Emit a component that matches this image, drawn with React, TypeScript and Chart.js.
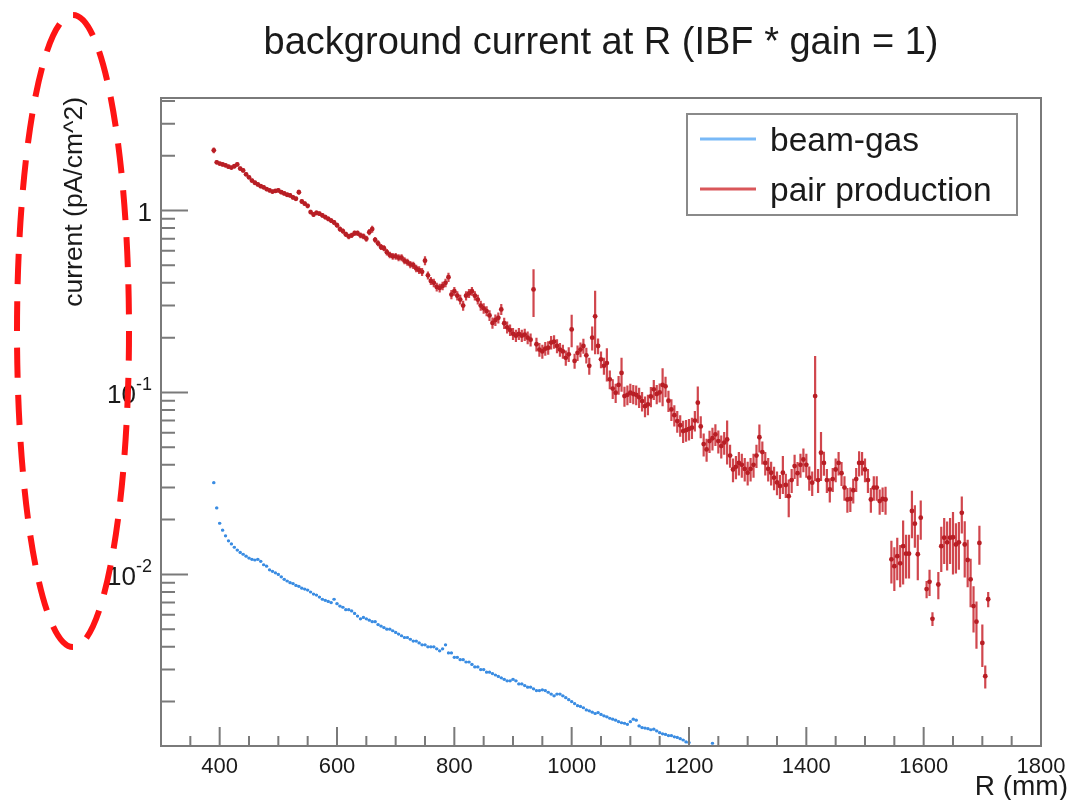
import React, { useEffect, useRef } from "react";
import { Chart, registerables } from "chart.js";

Chart.register(...registerables);

// ---- binning of both histograms (R in mm, bin centres) ----
const R_START = 390;
const BIN_WIDTH = 5;

// pair production (red), 390 .. 1710 mm
const PAIR_VALUES: (number | null)[] = [
  2.14, 1.84, 1.81, 1.79, 1.77, 1.74, 1.72, 1.75, 1.79, 1.70,
  1.66, 1.58, 1.52, 1.46, 1.42, 1.39, 1.36, 1.34, 1.31, 1.29,
  1.27, 1.28, 1.29, 1.26, 1.24, 1.22, 1.21, 1.18, 1.16, 1.26,
  1.12, 1.09, 1.06, 0.98, 0.95, 0.97, 0.96, 0.94, 0.92, 0.90,
  0.88, 0.86, 0.83, 0.79, 0.77, 0.74, 0.72, 0.73, 0.75, 0.75,
  0.73, 0.72, 0.70, 0.76, 0.79, 0.69, 0.66, 0.63, 0.62, 0.59,
  0.57, 0.56, 0.56, 0.55, 0.55, 0.53, 0.52, 0.505, 0.50, 0.48,
  0.47, 0.46, 0.53, 0.44, 0.41, 0.40, 0.38, 0.375, 0.385, 0.40,
  0.43, 0.345, 0.36, 0.34, 0.324, 0.30, 0.34, 0.35, 0.36, 0.34,
  0.324, 0.30, 0.29, 0.28, 0.265, 0.241, 0.25, 0.257, 0.286, 0.24,
  0.228, 0.22, 0.21, 0.205, 0.21, 0.205, 0.208, 0.20, 0.195, 0.368,
  0.184, 0.172, 0.168, 0.174, 0.176, 0.188, 0.19, 0.18, 0.172, 0.168,
  0.155, 0.162, 0.222, 0.149, 0.165, 0.172, 0.18, 0.16, 0.14, 0.20,
  0.262, 0.18, 0.152, 0.14, 0.145, 0.118, 0.105, 0.0996, 0.11, 0.128,
  0.0955, 0.097, 0.0996, 0.098, 0.097, 0.094, 0.0896, 0.084, 0.086, 0.095,
  0.104, 0.098, 0.10, 0.11, 0.108, 0.09, 0.0806, 0.075, 0.0696, 0.066,
  0.0613, 0.062, 0.063, 0.064, 0.07, 0.0878, 0.065, 0.052, 0.0486, 0.054,
  0.056, 0.0588, 0.054, 0.0507, 0.053, 0.0552, 0.045, 0.0377, 0.039, 0.041,
  0.040, 0.038, 0.0362, 0.038, 0.040, 0.045, 0.0567, 0.047, 0.041, 0.038,
  0.0362, 0.034, 0.032, 0.0306, 0.0362, 0.031, 0.0269, 0.033, 0.0394, 0.036,
  0.040, 0.0428, 0.040, 0.034, 0.0319, 0.0955, 0.033, 0.0466, 0.041, 0.033,
  0.0293, 0.0334, 0.0377, 0.041, 0.036, 0.030, 0.0258, 0.026, 0.029, 0.0334,
  0.041, 0.041, 0.0377, 0.033, 0.0258, 0.030, 0.030, 0.0253, 0.026, 0.0258,
  null, 0.0121, 0.0111, 0.0126, 0.0115, 0.0143, 0.013, 0.013, 0.0223, 0.019,
  0.0129, 0.0205, null, 0.0083, 0.0091, 0.0057, null, 0.0088, 0.0143, 0.0159,
  0.015, 0.0159, 0.016, 0.0146, 0.015, 0.0218, 0.0146, 0.012, 0.0094, 0.0067,
  0.0055, 0.0149, 0.0042, 0.00276, 0.0073,
];

const PAIR_ERRORS: number[] = [
  0.08, 0.045, 0.045, 0.045, 0.044, 0.043, 0.043, 0.044, 0.045, 0.042,
  0.042, 0.04, 0.038, 0.037, 0.036, 0.035, 0.034, 0.034, 0.033, 0.033,
  0.033, 0.033, 0.034, 0.033, 0.032, 0.032, 0.032, 0.031, 0.031, 0.04,
  0.03, 0.03, 0.03, 0.028, 0.028, 0.028, 0.028, 0.028, 0.027, 0.027,
  0.027, 0.027, 0.026, 0.026, 0.026, 0.025, 0.025, 0.025, 0.026, 0.026,
  0.026, 0.026, 0.026, 0.03, 0.035, 0.025, 0.025, 0.024, 0.024, 0.024,
  0.024, 0.024, 0.024, 0.024, 0.024, 0.023, 0.023, 0.023, 0.023, 0.023,
  0.023, 0.023, 0.03, 0.022, 0.021, 0.021, 0.021, 0.021, 0.021, 0.022,
  0.025, 0.02, 0.02, 0.02, 0.02, 0.019, 0.02, 0.02, 0.02, 0.02,
  0.02, 0.019, 0.019, 0.018, 0.018, 0.017, 0.018, 0.018, 0.02, 0.017,
  0.017, 0.016, 0.016, 0.016, 0.016, 0.016, 0.016, 0.016, 0.016, 0.108,
  0.016, 0.015, 0.015, 0.015, 0.015, 0.016, 0.016, 0.016, 0.015, 0.015,
  0.015, 0.015, 0.045, 0.014, 0.016, 0.016, 0.017, 0.016, 0.015, 0.03,
  0.1, 0.018, 0.016, 0.015, 0.03, 0.014, 0.013, 0.012, 0.013, 0.027,
  0.012, 0.012, 0.012, 0.012, 0.012, 0.012, 0.011, 0.011, 0.011, 0.012,
  0.013, 0.012, 0.012, 0.026, 0.014, 0.012, 0.011, 0.01, 0.0095, 0.009,
  0.0085, 0.0085, 0.0085, 0.0085, 0.009, 0.02, 0.009, 0.0075, 0.007, 0.0075,
  0.008, 0.008, 0.0078, 0.0073, 0.0076, 0.015, 0.0065, 0.0056, 0.0057, 0.006,
  0.006, 0.0056, 0.0054, 0.0056, 0.006, 0.0066, 0.01, 0.0068, 0.006, 0.0056,
  0.0054, 0.005, 0.0048, 0.0046, 0.0085, 0.0047, 0.0063, 0.005, 0.006, 0.0054,
  0.006, 0.0064, 0.006, 0.0052, 0.0049, 0.063, 0.005, 0.014, 0.0062, 0.005,
  0.0045, 0.005, 0.0056, 0.006, 0.0054, 0.0046, 0.004, 0.004, 0.0045, 0.005,
  0.0065, 0.006, 0.0056, 0.005, 0.004, 0.0046, 0.0046, 0.004, 0.004, 0.0045,
  0, 0.0032, 0.003, 0.0033, 0.003, 0.0055, 0.0035, 0.0035, 0.0065, 0.005,
  0.0036, 0.005, 0, 0.0009, 0.0015, 0.0005, 0, 0.0015, 0.004, 0.0045,
  0.0045, 0.0045, 0.006, 0.0045, 0.0044, 0.005, 0.005, 0.0035, 0.0028, 0.0019,
  0.0016, 0.0036, 0.0011, 0.0004, 0.0007,
];

// beam-gas (blue), 390 .. 1240 mm
const BEAMGAS_VALUES: (number | null)[] = [
  0.0319, 0.0232, 0.0191, 0.0175, 0.0163, 0.0153, 0.0147, 0.0141, 0.0136, 0.0132,
  0.0129, 0.0126, 0.0123, 0.0121, 0.0120, 0.0121, 0.0118, 0.0113, 0.0111, 0.0106,
  0.0104, 0.0102, 0.0100, 0.0097, 0.0094, 0.0092, 0.0090, 0.0089, 0.0087, 0.0086,
  0.0084, 0.0083, 0.0082, 0.0080, 0.0078, 0.0077, 0.0075, 0.0073, 0.0072, 0.0071,
  0.0070, 0.0073, 0.0069, 0.0067, 0.0066, 0.0064, 0.0064, 0.0063, 0.0061, 0.0059,
  0.0057, 0.0058, 0.0057, 0.0056, 0.0055, 0.0055, 0.0053, 0.0052, 0.0051, 0.0050,
  0.0050, 0.0049, 0.0048, 0.0047, 0.0046, 0.0045, 0.0045, 0.0044, 0.0043, 0.0043,
  0.0042, 0.0041, 0.0041, 0.0040, 0.0040, 0.0040, 0.0039, 0.0038, 0.0039, 0.0041,
  0.0037, 0.0037, 0.0035, 0.0035, 0.0034, 0.0034, 0.0033, 0.0033, 0.0032, 0.0031,
  0.0031, 0.0030, 0.0030, 0.0029, 0.0029, 0.00285, 0.0028, 0.00275, 0.0027, 0.00265,
  0.0026, 0.0026, 0.00265, 0.0026, 0.0025, 0.0025, 0.00245, 0.0024, 0.0024, 0.00235,
  0.0023, 0.0023, 0.00232, 0.0023, 0.00225, 0.0022, 0.00215, 0.0022, 0.0022, 0.00215,
  0.0021, 0.00205, 0.0020, 0.00195, 0.0019, 0.00188, 0.00185, 0.0018, 0.00178, 0.00175,
  0.00172, 0.00174, 0.0017, 0.00167, 0.00165, 0.00162, 0.0016, 0.00158, 0.00155, 0.00153,
  0.00152, 0.0015, 0.00155, 0.0016, 0.00158, 0.00147, 0.00144, 0.00143, 0.00142, 0.0014,
  0.00141, 0.00138, 0.00135, 0.00133, 0.00132, 0.0013, 0.0013, 0.00128, 0.00127, 0.00125,
  0.00123, 0.0012, 0.00119, null, null, null, null, null, null, null,
  0.00118,
];

// axes
const X_MIN = 300;
const X_MAX = 1800;
const Y_MIN = 1.14e-3;
const Y_MAX = 4.15;
const X_MAJOR_TICKS = [400, 600, 800, 1000, 1200, 1400, 1600, 1800];
const X_MINOR_TICKS = [350, 450, 500, 550, 650, 700, 750, 850, 900, 950, 1050, 1100, 1150, 1250, 1300, 1350, 1450, 1500, 1550, 1650, 1700, 1750];
const Y_DECADES = [0.001, 0.01, 0.1, 1];
const Y_MINOR_MULTS = [2, 3, 4, 5, 6, 7, 8, 9];
const Y_LABELS = [
  { value: 1, base: "1", exp: "" },
  { value: 0.1, base: "10", exp: "-1" },
  { value: 0.01, base: "10", exp: "-2" },
];

const TITLE = "background current at R (IBF * gain = 1)";
const X_TITLE = "R (mm)";
const Y_TITLE = "current (pA/cm^2)";
const SERIES_NAMES = ["beam-gas", "pair production"];

const FONT = "'Liberation Sans', Arial, Helvetica, sans-serif";
const BLUE = "#3a8ce2";
const BLUE_BAR = "rgba(70,150,232,0.9)";
const BLUE_LEGEND = "#79b9f7";
const RED = "#b81e25";
const RED_BAR = "rgba(200,38,46,0.85)";
const RED_LEGEND = "#d9575a";
const AXIS = "#7a7a7a";
const TEXT = "#1a1a1a";

function toPoints(values: (number | null)[]) {
  const pts: { x: number; y: number }[] = [];
  values.forEach((v, i) => {
    if (v !== null && v > 0) pts.push({ x: R_START + i * BIN_WIDTH, y: v });
  });
  return pts;
}

const rootStylePlugin = {
  id: "rootStyle",
  beforeDatasetsDraw(chart: any) {
    const { ctx, chartArea, scales } = chart;
    const xs = scales.x;
    const ys = scales.y;
    ctx.save();
    ctx.beginPath();
    ctx.rect(chartArea.left, chartArea.top, chartArea.right - chartArea.left, chartArea.bottom - chartArea.top);
    ctx.clip();

    // beam-gas: horizontal bin-width bars
    ctx.strokeStyle = BLUE_BAR;
    ctx.lineWidth = 1.8;
    BEAMGAS_VALUES.forEach((v, i) => {
      if (v === null) return;
      const r = R_START + i * BIN_WIDTH;
      const py = ys.getPixelForValue(v);
      ctx.beginPath();
      ctx.moveTo(xs.getPixelForValue(r - BIN_WIDTH / 2), py);
      ctx.lineTo(xs.getPixelForValue(r + BIN_WIDTH / 2), py);
      ctx.stroke();
    });

    // pair production: vertical error bars + horizontal bin-width bars
    ctx.strokeStyle = RED_BAR;
    ctx.lineWidth = 2.2;
    PAIR_VALUES.forEach((v, i) => {
      if (v === null) return;
      const r = R_START + i * BIN_WIDTH;
      const e = PAIR_ERRORS[i];
      const px = xs.getPixelForValue(r);
      const py = ys.getPixelForValue(v);
      ctx.beginPath();
      ctx.moveTo(xs.getPixelForValue(r - BIN_WIDTH / 2), py);
      ctx.lineTo(xs.getPixelForValue(r + BIN_WIDTH / 2), py);
      if (e) {
        const low = v - e > Y_MIN * 0.01 ? v - e : Y_MIN * 0.01;
        ctx.moveTo(px, ys.getPixelForValue(v + e));
        ctx.lineTo(px, ys.getPixelForValue(low));
      }
      ctx.stroke();
    });
    ctx.restore();
  },
  afterDraw(chart: any) {
    const { ctx, chartArea, scales } = chart;
    const xs = scales.x;
    const ys = scales.y;
    const { left, right, top, bottom } = chartArea;
    ctx.save();

    // frame
    ctx.strokeStyle = AXIS;
    ctx.lineWidth = 2;
    ctx.strokeRect(left, top, right - left, bottom - top);

    // x ticks (inward)
    ctx.beginPath();
    X_MAJOR_TICKS.forEach((t) => {
      const px = xs.getPixelForValue(t);
      ctx.moveTo(px, bottom);
      ctx.lineTo(px, bottom - 19);
    });
    X_MINOR_TICKS.forEach((t) => {
      const px = xs.getPixelForValue(t);
      ctx.moveTo(px, bottom);
      ctx.lineTo(px, bottom - 10);
    });
    // y ticks (inward)
    Y_DECADES.forEach((d) => {
      if (d >= Y_MIN && d <= Y_MAX) {
        const py = ys.getPixelForValue(d);
        ctx.moveTo(left, py);
        ctx.lineTo(left + 27, py);
      }
      Y_MINOR_MULTS.forEach((m) => {
        const v = d * m;
        if (v < Y_MIN || v > Y_MAX) return;
        const py = ys.getPixelForValue(v);
        ctx.moveTo(left, py);
        ctx.lineTo(left + 14, py);
      });
    });
    ctx.stroke();

    ctx.fillStyle = TEXT;
    // x tick labels
    ctx.font = `22px ${FONT}`;
    ctx.textAlign = "center";
    ctx.textBaseline = "alphabetic";
    X_MAJOR_TICKS.forEach((t) => {
      ctx.fillText(String(t), xs.getPixelForValue(t), bottom + 27);
    });

    // y tick labels with superscript exponents
    const labelRight = left - 9;
    Y_LABELS.forEach((l) => {
      const py = ys.getPixelForValue(l.value);
      ctx.textAlign = "left";
      ctx.font = `18px ${FONT}`;
      const we = l.exp ? ctx.measureText(l.exp).width : 0;
      ctx.font = `26px ${FONT}`;
      const wb = ctx.measureText(l.base).width;
      const x0 = labelRight - we - wb;
      ctx.fillText(l.base, x0, py + 11);
      if (l.exp) {
        ctx.font = `18px ${FONT}`;
        ctx.fillText(l.exp, x0 + wb, py - 2);
      }
    });

    // axis titles
    ctx.font = `28px ${FONT}`;
    ctx.textAlign = "right";
    ctx.fillText(X_TITLE, 1068, 795);

    ctx.save();
    ctx.translate(75, top - 1);
    ctx.rotate(-Math.PI / 2);
    ctx.font = `26.5px ${FONT}`;
    ctx.textAlign = "right";
    ctx.textBaseline = "middle";
    ctx.fillText(Y_TITLE, 0, 0);
    ctx.restore();

    // title
    ctx.font = `38px ${FONT}`;
    ctx.textAlign = "center";
    ctx.textBaseline = "alphabetic";
    ctx.fillText(TITLE, 601, 54);

    // legend box
    ctx.fillStyle = "#ffffff";
    ctx.fillRect(687, 114, 330, 101);
    ctx.strokeStyle = "#8a8a8a";
    ctx.lineWidth = 2;
    ctx.strokeRect(687, 114, 330, 101);
    const entries = [
      { name: SERIES_NAMES[0], color: BLUE_LEGEND, y: 139 },
      { name: SERIES_NAMES[1], color: RED_LEGEND, y: 189 },
    ];
    entries.forEach((en) => {
      ctx.strokeStyle = en.color;
      ctx.lineWidth = 3;
      ctx.beginPath();
      ctx.moveTo(700, en.y);
      ctx.lineTo(756, en.y);
      ctx.stroke();
      ctx.fillStyle = TEXT;
      ctx.font = `33.5px ${FONT}`;
      ctx.textAlign = "left";
      ctx.fillText(en.name, 770, en.y + 12);
    });

    // red dashed annotation ellipse
    ctx.strokeStyle = "#ff1414";
    ctx.lineWidth = 6;
    ctx.setLineDash([30, 17]);
    ctx.beginPath();
    ctx.ellipse(73, 331, 56, 316, 0, 0, Math.PI * 2);
    ctx.stroke();
    ctx.setLineDash([]);

    ctx.restore();
  },
};

export default function App() {
  const canvasRef = useRef<HTMLCanvasElement | null>(null);

  useEffect(() => {
    if (!canvasRef.current) return;
    const chart = new Chart(canvasRef.current, {
      type: "scatter",
      data: {
        datasets: [
          {
            label: SERIES_NAMES[0],
            data: toPoints(BEAMGAS_VALUES),
            pointRadius: 1.6,
            pointBorderWidth: 0,
            pointBackgroundColor: BLUE,
            showLine: false,
          },
          {
            label: SERIES_NAMES[1],
            data: toPoints(PAIR_VALUES),
            pointRadius: 2.4,
            pointBorderWidth: 0,
            pointBackgroundColor: RED,
            showLine: false,
          },
        ],
      },
      options: {
        responsive: false,
        animation: false,
        layout: { padding: { left: 161, top: 98, right: 33, bottom: 54 } },
        scales: {
          x: { type: "linear", min: X_MIN, max: X_MAX, display: false },
          y: { type: "logarithmic", min: Y_MIN, max: Y_MAX, display: false },
        },
        plugins: {
          legend: { display: false },
          title: { display: false },
          tooltip: { enabled: false },
        },
      },
      plugins: [rootStylePlugin],
    });
    return () => chart.destroy();
  }, []);

  return (
    <div style={{ position: "absolute", left: 0, top: 0, width: 1074, height: 800, background: "#fff" }}>
      <canvas ref={canvasRef} width={1074} height={800} style={{ display: "block" }} />
    </div>
  );
}
